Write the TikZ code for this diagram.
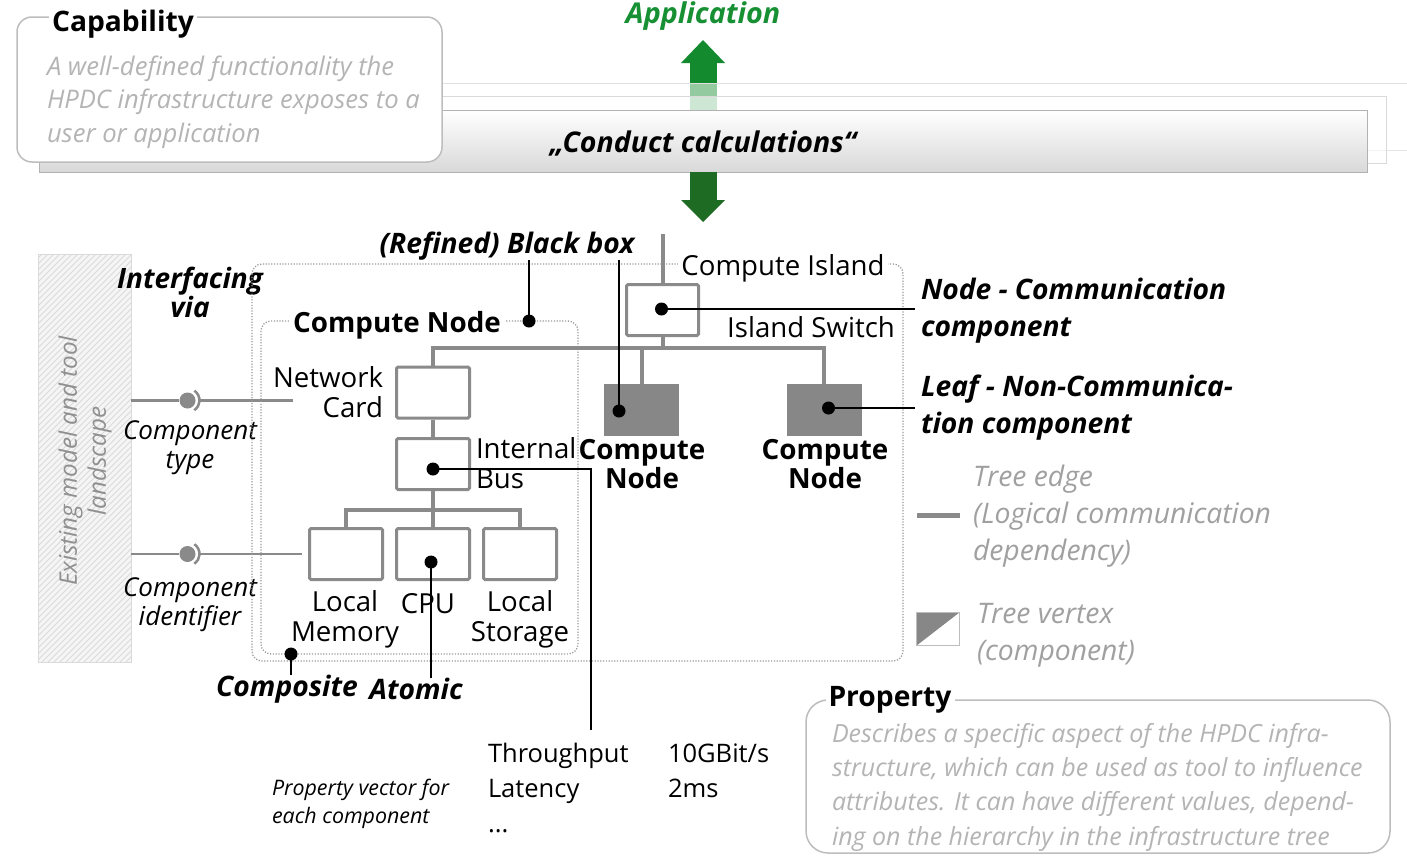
\documentclass[tikz,border=0pt]{standalone}
\usepackage{fontspec}
\setmainfont{Open Sans}
\usetikzlibrary{calc}
\definecolor{edgegray}{HTML}{8A8A8A}
\definecolor{leafgray}{HTML}{878787}
\definecolor{dotgray}{HTML}{9A9A9A}
\definecolor{txtlight}{HTML}{B4B4B4}
\definecolor{txtleg}{HTML}{A0A0A0}
\definecolor{boxlight}{HTML}{BDBDBD}
\definecolor{appgreen}{HTML}{179033}
\definecolor{upgreen}{HTML}{138A2E}
\definecolor{downgreen}{HTML}{1E6B24}
\definecolor{hatchfill}{HTML}{F5F5F5}
\definecolor{hatchline}{HTML}{DADADA}
\tikzset{
  tedge/.style={draw=edgegray, line width=4pt},
  comp/.style={draw=edgegray, line width=3pt, fill=white, minimum width=73pt, minimum height=51pt, inner sep=0pt, rounded corners=1.5pt},
  leafcomp/.style={fill=leafgray, draw=none, minimum width=75pt, minimum height=52pt, inner sep=0pt},
  dotn/.style={circle, fill=black, inner sep=0pt, minimum size=13pt},
  callout/.style={draw=black, line width=2.5pt},
  dotbox/.style={draw=dotgray, line width=1.3pt, dash pattern=on 1.2pt off 1.6pt, rounded corners=10pt},
  txt/.style={inner sep=0pt, outer sep=0pt},
  regl/.style={txt, font=\fontsize{27.6}{30}\selectfont},
  boldl/.style={txt, font=\fontsize{27.8}{29}\selectfont\bfseries},
  bitl/.style={txt, font=\fontsize{28.2}{37}\selectfont\bfseries\itshape},
  itl/.style={txt, font=\fontsize{26}{29}\selectfont\itshape},
  grayit/.style={txt, font=\fontsize{25.6}{33.5}\selectfont\itshape, text=txtlight, align=left},
  legit/.style={txt, font=\fontsize{28.3}{37}\selectfont\itshape, text=txtleg, align=left},
  ifcline/.style={draw=edgegray, line width=2.5pt},
  ball/.style={circle, fill=edgegray, inner sep=0pt, minimum size=16pt},
  infobox/.style={draw=boxlight, line width=1.5pt, fill=white, rounded corners=18pt}
}
\begin{document}
\begin{tikzpicture}[x=1pt,y=-1pt]
\useasboundingbox (0,0) rectangle (1407,862);
\fill[white] (0,0) rectangle (1407,862);

% ---------- top: application arrows and capability banner ----------
\node[txt, font=\fontsize{28.7}{30}\selectfont\bfseries\itshape, text=appgreen] (app) at (703,16.5) {Application};
\fill[upgreen] (690,62) rectangle (717,112);
\fill[upgreen] (681,63) -- (725,63) -- (703,40) -- cycle;

\fill[white, opacity=.55] (60,83) rectangle (1425,150);
\draw[black!12, line width=1pt] (60,83) -- (1425,83);
\draw[black!10, line width=1pt] (1425,150) -- (60,150);
\fill[white, opacity=.55] (50,96) rectangle (1386,163);
\draw[black!15, line width=1pt] (50,96) rectangle (1386,163);
\shade[top color=white, bottom color=black!15] (39,110) rectangle (1367,172);
\draw[black!30, line width=1pt] (39,110) rectangle (1367,172);
\node[txt, font=\fontsize{28.5}{30}\selectfont\bfseries\itshape] (cap) at (703,144) {„Conduct calculations“};

\fill[downgreen] (690,172) rectangle (717,201);
\fill[downgreen] (681,200) -- (725,200) -- (703,222) -- cycle;

\draw[infobox, rounded corners=15pt] (17,17) rectangle (442,162);
\node[txt, font=\fontsize{28.2}{30}\selectfont\bfseries, fill=white, inner xsep=3pt] (captitle) at (123,24) {Capability};
\node[grayit, anchor=west] (captext) at (47,102) {A well-defined functionality the\\HPDC infrastructure exposes to a\\user or application};

% ---------- existing model landscape ----------
\begin{scope}
  \clip (38,254) rectangle (131,662);
  \fill[hatchfill] (38,254) rectangle (131,662);
  \foreach \i in {-390,-384,...,134} \draw[hatchline, line width=0.8pt] (\i,662) -- ++(420,-420);
\end{scope}
\node[draw=hatchline, line width=1pt, minimum width=93pt, minimum height=408pt, inner sep=0pt] (land) at (84.5,458) {};
\node[txt, rotate=90, font=\fontsize{24.2}{29}\selectfont\itshape, text=txtleg!90!black, align=center] (landtxt) at (85,461) {Existing model and tool\\landscape};

\node[bitl, align=center, font=\fontsize{28}{29}\selectfont\bfseries\itshape] (ifc) at (190,292) {Interfacing\\via};

% interface symbols
\node[ball] (b1) at (187.5,400.5) {};
\node[ball] (b2) at (187.5,554) {};
\coordinate (l1) at (131,400.5);
\coordinate (l2) at (131,554);
\coordinate (r1) at (293,400.5);
\coordinate (r2) at (302,554);
\draw[ifcline] (l1) -- (b1);
\draw[ifcline] (l2) -- (b2);
\draw[ifcline] (187.5,400.5) ++(-55:12) arc[start angle=-55, end angle=55, radius=12];
\draw[ifcline] (187.5,554) ++(-55:12) arc[start angle=-55, end angle=55, radius=12];
\draw[ifcline] (199.5,400.5) -- (r1);
\draw[ifcline] (199.5,554) -- (r2);
\node[itl, align=center] (ctype) at (190,448) {Component\\type};
\node[itl, align=center] (cident) at (190,605) {Component\\identifier};

% ---------- dotted containers ----------
\draw[dotbox] (252,264) rectangle (903,661);
\draw[dotbox] (261,321) rectangle (578,654);
\node[regl, fill=white, inner xsep=3pt] (islandlbl) at (783,268) {Compute Island};
\node[boldl, fill=white, inner xsep=4pt] (cnlbl) at (397,325) {Compute Node};

% ---------- components ----------
\coordinate (uplink) at (662.5,234);
\draw[tedge] (uplink) -- (662.5,283);
\node[comp, minimum width=72pt] (sw) at (662.5,310) {};
\node[comp] (nc) at (433,392.5) {};
\node[comp] (bus) at (433,464) {};
\node[comp] (mem) at (346,554) {};
\node[comp] (cpu) at (433,554) {};
\node[comp] (sto) at (520,554) {};
\node[leafcomp] (cn1) at (641.5,410) {};
\node[leafcomp] (cn2) at (824,410) {};

\coordinate (hub) at (662.5,348);
\coordinate (hub2) at (433,510);
\draw[tedge] (sw.south) -- (hub);
\draw[tedge] (nc.north) |- (hub) -| (cn2.north);
\draw[tedge] (hub -| cn1.north) -- (cn1.north);
\draw[tedge] (nc.south) -- (bus.north);
\draw[tedge] (bus.south) -- (hub2);
\draw[tedge] (mem.north) |- (hub2) -| (sto.north);
\draw[tedge] (hub2) -- (cpu.north);

% labels of components
\node[regl, align=right, anchor=east] (nclbl) at (383,392) {Network\\Card};
\node[regl, align=left, anchor=west] (buslbl) at (476,463) {Internal\\Bus};
\node[regl, align=center] (memlbl) at (345,619) {Local\\Memory};
\node[regl] (cpulbl) at (428,604) {CPU};
\node[regl, align=center] (stolbl) at (520,619) {Local\\Storage};
\node[regl] (swlbl) at (811,327) {Island Switch};
\node[boldl, align=center] (cn1lbl) at (642,464.5) {Compute\\Node};
\node[boldl, align=center] (cn2lbl) at (825,464.5) {Compute\\Node};

% ---------- callouts ----------
\node[bitl] (bb) at (507,246) {(Refined) Black box};
\node[dotn] (dcnb) at (529,321) {};
\node[dotn] (dcn1) at (619,411) {};
\draw[callout] (dcnb.center) -- (dcnb |- bb.south);
\draw[callout] (dcn1.center) -- (dcn1 |- bb.south);

\node[dotn] (dsw) at (661.5,309) {};
\node[bitl, align=left, anchor=west] (commlbl) at (921,311) {Node - Communication\\component};
\coordinate (swend) at (915,309);
\draw[callout] (dsw.center) -- (swend);

\node[dotn] (dcn2) at (828.5,408) {};
\node[bitl, align=left, anchor=west] (leaflbl) at (921,407.5) {Leaf - Non-Communica-\\tion component};
\coordinate (cn2end) at (915,408);
\draw[callout] (dcn2.center) -- (cn2end);

\node[dotn] (dbus) at (433,469) {};
\coordinate (busend) at (591,730);
\draw[callout] (dbus.center) -| (busend);

\node[dotn] (dcpu) at (431,562) {};
\node[dotn] (dcomp) at (291,654) {};
\node[bitl] (complbl) at (287,689) {Composite};
\node[bitl] (atomlbl) at (416,689) {Atomic};
\draw[callout] (dcpu.center) -- (dcpu |- atomlbl.north);
\draw[callout] (dcomp.center) -- (dcomp |- complbl.north);

% ---------- legend ----------
\coordinate (lega) at (917,515);
\coordinate (legb) at (960,515);
\draw[edgegray, line width=5pt] (lega) -- (legb);
\node[legit, anchor=west] (legedge) at (973,516) {Tree edge\\(Logical communication\\dependency)};
\fill[leafgray] (916,612) -- (960,612) -- (916,646) -- cycle;
\node[draw=boxlight, line width=1.5pt, minimum width=43pt, minimum height=33pt, inner sep=0pt] (legvert) at (938,629) {};
\node[legit, anchor=west] (legvlbl) at (977,635) {Tree vertex\\(component)};

% ---------- property vector ----------
\node[txt, font=\fontsize{25.5}{35}\selectfont, align=left, anchor=west] (pnames) at (488,788) {Throughput\\Latency\\...};
\node[txt, font=\fontsize{25.5}{35}\selectfont, align=left, anchor=west] (pvals) at (668,771) {10GBit/s\\2ms};
\node[txt, font=\fontsize{21.4}{28}\selectfont\itshape, align=left, anchor=west] (pvec) at (272,804) {Property vector for\\each component};

% ---------- property box ----------
\draw[infobox, rounded corners=22pt] (806,700) rectangle (1390,853);
\node[txt, font=\fontsize{28.2}{30}\selectfont\bfseries, fill=white, inner xsep=3pt] (proptitle) at (890,700) {Property};
\node[grayit, anchor=west, font=\fontsize{25}{34.3}\selectfont\itshape] (proptext) at (832,787) {Describes a specific aspect of the HPDC infra-\\structure, which can be used as tool to influence\\attributes. It can have different values, depend-\\ing on the hierarchy in the infrastructure tree};
\end{tikzpicture}
\end{document}
